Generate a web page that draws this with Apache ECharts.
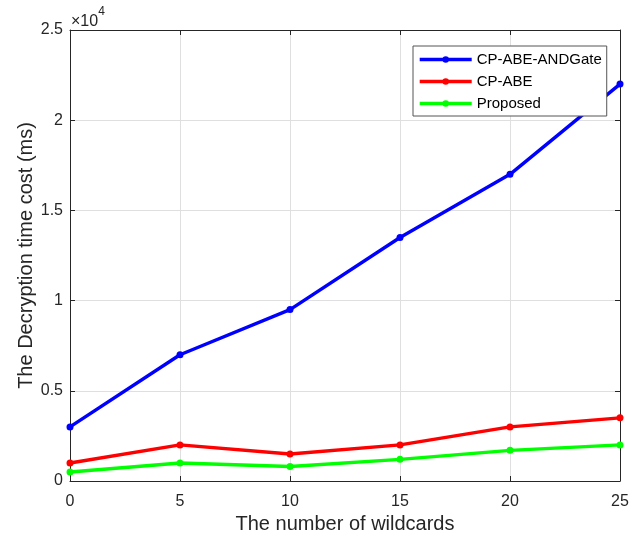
<!DOCTYPE html>
<html>
<head>
<meta charset="utf-8">
<script src="https://cdn.jsdelivr.net/npm/echarts@6/dist/echarts.min.js"></script>
<style>
  html, body { margin: 0; padding: 0; background: #fff; }
  #chart { width: 630px; height: 536px; }
</style>
</head>
<body>
<div id="chart"></div>
<script>
// data
const wildcards = [0, 5, 10, 15, 20, 25];
const andGate = [3000, 7000, 9500, 13500, 17000, 22000];
const cpAbe = [1000, 2000, 1500, 2000, 3000, 3500];
const proposed = [500, 1000, 800, 1200, 1700, 2000];

const font = 'Liberation Sans, Arial, Helvetica, sans-serif';
const axisColor = '#262626';

const chartDom = document.getElementById('chart'),
    chart = echarts.init(chartDom);

function pairs(vals) {
    return wildcards.map(function (x, i) { return [x, vals[i]]; });
}

function mkSeries(name, color, vals) {
    return {
        name: name,
        type: 'line',
        xAxisIndex: 0,
        yAxisIndex: 0,
        data: pairs(vals),
        symbol: 'circle',
        symbolSize: 7,
        lineStyle: { color: color, width: 3.4 },
        itemStyle: { color: color },
        animation: false
    };
}

// ticks point into the plot, on all four sides (matlab box)
function tick() {
    return { show: true, inside: true, length: 5, lineStyle: { color: axisColor } };
}

// onZero off, or the mirror axes sit on top of the main ones
const boxLine = { show: true, onZero: false, lineStyle: { color: axisColor } };

let option = {
    animation: false,
    textStyle: { fontFamily: font },
    grid: { left: 70, right: 10, top: 30, bottom: 55, outerBoundsMode: 'none' },
    legend: {
        orient: 'vertical',
        left: 413,
        top: 46,
        itemWidth: 52,
        itemHeight: 8,
        itemGap: 5,
        padding: [5, 5, 4, 5],
        backgroundColor: '#fff',
        borderColor: '#555',
        borderWidth: 1,
        lineStyle: { width: 3.4 },
        textStyle: { fontSize: 15, color: '#000', fontFamily: font, lineHeight: 17 },
        data: ['CP-ABE-ANDGate', 'CP-ABE', 'Proposed']
    },
    xAxis: [
        {
            type: 'value',
            min: 0,
            max: 25,
            interval: 5,
            name: 'The number of wildcards',
            nameLocation: 'middle',
            nameGap: 33,
            nameMoveOverlap: false,
            nameTextStyle: { fontSize: 20, color: axisColor, fontFamily: font },
            axisLine: boxLine,
            axisTick: tick(),
            axisLabel: { fontSize: 16, color: axisColor, margin: 13, fontFamily: font },
            splitLine: { show: true, lineStyle: { color: '#dfdfdf' } }
        },
        {
            type: 'value',
            position: 'top',
            min: 0,
            max: 25,
            interval: 5,
            axisLine: boxLine,
            axisTick: tick(),
            axisLabel: { show: false },
            splitLine: { show: false }
        }
    ],
    yAxis: [
        {
            type: 'value',
            min: 0,
            max: 25000,
            interval: 5000,
            name: 'The Decryption time cost (ms)',
            nameLocation: 'middle',
            nameGap: 34,
            nameMoveOverlap: false,
            nameTextStyle: { fontSize: 20, color: axisColor, fontFamily: font },
            axisLine: boxLine,
            axisTick: tick(),
            axisLabel: {
                fontSize: 16,
                color: axisColor,
                margin: 7,
                fontFamily: font,
                formatter: function (val) {
                    return String(val / 10000);
                }
            },
            splitLine: { show: true, lineStyle: { color: '#dfdfdf' } }
        },
        {
            type: 'value',
            position: 'right',
            min: 0,
            max: 25000,
            interval: 5000,
            axisLine: boxLine,
            axisTick: tick(),
            axisLabel: { show: false },
            splitLine: { show: false }
        }
    ],
    graphic: [
        {
            type: 'text',
            left: 71,
            top: 6,
            style: {
                text: '{a|×10}{b|4}',
                rich: {
                    a: { fontSize: 16, fill: axisColor, fontFamily: font, verticalAlign: 'bottom', padding: [8, 0, 0, 0] },
                    b: { fontSize: 12, fill: axisColor, fontFamily: font, verticalAlign: 'top' }
                }
            }
        }
    ],
    series: [
        mkSeries('CP-ABE-ANDGate', '#0000ff', andGate),
        mkSeries('CP-ABE', '#ff0000', cpAbe),
        mkSeries('Proposed', '#00ff00', proposed)
    ]
};

option && chart.setOption(option);
</script>
</body>
</html>
